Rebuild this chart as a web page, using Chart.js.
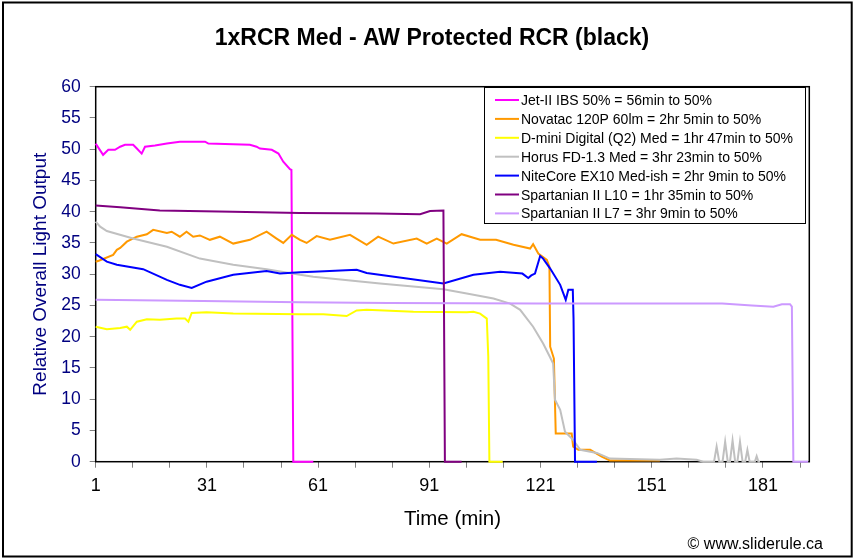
<!DOCTYPE html>
<html>
<head>
<meta charset="utf-8">
<title>1xRCR Med - AW Protected RCR (black)</title>
<script src="https://cdn.jsdelivr.net/npm/chart.js@4.4.1/dist/chart.umd.min.js"></script>
<style>
  html, body { margin: 0; padding: 0; background: #fff; }
  #chart { display: block; }
</style>
</head>
<body>
<canvas id="chart" width="855" height="560"></canvas>
<script>
// readings: minutes since switch-on vs relative output
const jetMin = [1, 3, 4.4, 6.2, 7.6, 8.9, 11.1, 12.1, 13.4, 14.3, 17, 20.2, 23.7, 30.5, 31.4, 42.6, 44.4, 45.3, 48.5, 50.3, 51.6, 53.4, 53.8, 54.3, 59.7];
const jetOut = [50.9, 49.1, 49.9, 49.9, 50.4, 50.7, 50.7, 50.1, 49.3, 50.4, 50.6, 50.9, 51.2, 51.2, 50.9, 50.7, 50.4, 50.1, 49.9, 49.3, 48, 46.8, 46.7, 0, 0];

const novaMin = [1, 2, 5.7, 6.7, 7.6, 9.4, 12.1, 14.8, 16.5, 20.2, 21.5, 23.7, 25.5, 27.3, 29.1, 31.8, 34.5, 38.1, 42.6, 47.1, 49.8, 51.6, 53.9, 56.1, 57.9, 60.6, 64.2, 69.6, 74.1, 77.2, 81.3, 87.6, 90.3, 93, 95.7, 99.7, 104.7, 109, 113.7, 118.2, 119, 120.4, 122.7, 123.4, 123.6, 124.6, 125.1, 129.4, 129.8, 131.2, 134.4, 137.5, 139.7, 153.2];
const novaOut = [32, 32.2, 33.1, 33.9, 34.2, 35.2, 36, 36.4, 37.1, 36.6, 36.8, 36, 36.8, 36, 36.2, 35.5, 36, 34.9, 35.5, 36.8, 35.7, 35, 36.3, 35.5, 35, 36.1, 35.5, 36.3, 34.7, 36, 34.9, 35.7, 34.9, 35.7, 34.9, 36.4, 35.5, 35.5, 34.7, 34.1, 34.8, 33.3, 32.3, 31.2, 18.4, 16.5, 4.5, 4.5, 2.4, 1.9, 1.9, 0.8, 0.2, 0.2];

const dminiMin = [1, 4, 7.6, 9.4, 10.3, 12.1, 14.8, 18.3, 22.8, 25.1, 26, 26.9, 30.9, 38.1, 56.1, 62.4, 68.7, 71.4, 74.1, 86.7, 101.1, 102.9, 104.7, 106.5, 106.9, 107.2, 110.8];
const dminiOut = [21.6, 21.2, 21.4, 21.6, 21.1, 22.4, 22.8, 22.7, 22.9, 22.9, 22.4, 23.8, 23.9, 23.7, 23.6, 23.6, 23.3, 24.2, 24.3, 24.0, 23.9, 24.0, 23.7, 22.9, 16.8, 0, 0];

const horusMin = [1, 2.2, 4, 11.1, 20.2, 29.1, 38.1, 47.1, 56.1, 59.7, 77.7, 94.8, 101.1, 108.3, 112.8, 115.5, 119, 121.7, 123.5, 124.4, 124.9, 126.3, 127.6, 129.8, 131.7, 136.2, 139.7, 153.2, 157.7, 163.1, 164.9, 167.8, 168.5, 169.2, 170.1, 170.8, 171.5, 172.1, 172.8, 173.5, 174.1, 174.8, 175.5, 176.2, 176.8, 177.4, 178.8, 179.3, 179.8, 180.2];
const horusOut = [38.4, 37.6, 36.9, 35.7, 34.4, 32.5, 31.5, 30.8, 29.9, 29.6, 28.5, 27.6, 26.9, 26.1, 25.3, 24.3, 21.6, 18.9, 16.8, 15.7, 9.9, 8.3, 4.8, 3.5, 1.9, 1.4, 0.5, 0.3, 0.5, 0.3, 0, 0, 2.4, 0, 0, 3.2, 0, 0, 3.4, 0, 0, 3.2, 0, 0, 1.9, 0, 0, 0.9, 0, 0];

const niteMin = [1, 4, 6.7, 13.8, 20.2, 23.7, 26.9, 30.9, 38.1, 47.1, 50.7, 56.1, 59.7, 71.4, 74.1, 94.8, 102.9, 110.1, 116.1, 117.7, 118.5, 119.5, 120.9, 121.7, 123.6, 126.3, 127.8, 128.5, 129.7, 129.9, 130.3, 136.2];
const niteOut = [33.2, 32.0, 31.5, 30.8, 29.1, 28.3, 27.8, 28.8, 29.9, 30.5, 30.1, 30.3, 30.4, 30.7, 30.2, 28.5, 29.9, 30.4, 30.1, 29.4, 29.8, 30.1, 32.9, 32.5, 30.9, 28.3, 25.9, 27.5, 27.5, 22.9, 0, 0];

const l10Min = [1, 7.6, 18.3, 38, 56, 76.8, 88.5, 91.2, 94.8, 95.2, 99.7];
const l10Out = [41.0, 40.7, 40.2, 40.0, 39.8, 39.7, 39.6, 40.1, 40.2, 0, 0];

const l7Min = [1, 30, 56, 80, 120, 170, 178, 183.8, 186.1, 188.3, 188.8, 189.2, 193.2];
const l7Out = [25.9, 25.7, 25.5, 25.4, 25.3, 25.3, 25.0, 24.8, 25.2, 25.2, 24.8, 0, 0];

const seriesLabels = [
  'Jet-II IBS 50% = 56min to 50%',
  'Novatac 120P 60lm = 2hr 5min to 50%',
  'D-mini Digital (Q2) Med = 1hr 47min to 50%',
  'Horus FD-1.3 Med = 3hr 23min to 50%',
  'NiteCore EX10 Med-ish = 2hr 9min to 50%',
  'Spartanian II L10 = 1hr 35min to 50%',
  'Spartanian II L7 = 3hr 9min to 50%'
];
const seriesColors = ['#FF00FF', '#FF9900', '#FFFF00', '#C0C0C0', '#0000FF', '#800080', '#CC99FF'];

const xTickMinutes = [1, 11, 21, 31, 41, 51, 61, 71, 81, 91, 101, 111, 121, 131, 141, 151, 161, 171, 181, 191];
const xTickLabels = [1, 31, 61, 91, 121, 151, 181];

const chartTitle = '1xRCR Med - AW Protected RCR (black)';
const FONT = "'Liberation Sans', Arial, sans-serif";

function series(i, xs, ys) {
  return {
    label: seriesLabels[i],
    borderColor: seriesColors[i],
    backgroundColor: seriesColors[i],
    data: xs.map((x, k) => ({ x: x, y: ys[k] })),
    borderWidth: 2,
    pointRadius: 0,
    tension: 0,
    fill: false,
    clip: false,
    order: seriesLabels.length - i   // later series on top, like the original
  };
}

const decor = {
  id: 'decor',
  beforeDraw(chart) {
    const ctx = chart.ctx;
    ctx.save();
    ctx.fillStyle = '#fff';
    ctx.fillRect(0, 0, chart.width, chart.height);
    ctx.restore();
  },
  beforeDatasetsDraw(chart) {
    const { ctx, chartArea: a } = chart;
    ctx.save();
    ctx.strokeStyle = '#000';
    ctx.lineWidth = 1.5;
    ctx.strokeRect(a.left, a.top, a.right - a.left, a.bottom - a.top);
    ctx.restore();
  },
  afterDraw(chart) {
    const ctx = chart.ctx;
    ctx.save();

    ctx.fillStyle = '#000';
    ctx.font = 'bold 23px ' + FONT;
    ctx.textAlign = 'center';
    ctx.textBaseline = 'alphabetic';
    ctx.fillText(chartTitle, 432, 45);

    // legend box
    ctx.fillStyle = '#fff';
    ctx.fillRect(484, 87, 321, 136);
    ctx.strokeStyle = '#000';
    ctx.lineWidth = 1;
    ctx.strokeRect(484.5, 87.5, 321, 136);
    ctx.font = '14px ' + FONT;
    ctx.textAlign = 'left';
    chart.data.datasets.forEach((ds, i) => {
      const y = 105 + i * 18.9;
      ctx.strokeStyle = ds.borderColor;
      ctx.lineWidth = 2;
      ctx.beginPath();
      ctx.moveTo(495, y - 5);
      ctx.lineTo(519, y - 5);
      ctx.stroke();
      ctx.fillStyle = '#000';
      ctx.fillText(ds.label, 521, y);
    });

    ctx.font = '16px ' + FONT;
    ctx.textAlign = 'right';
    ctx.fillText('\u00A9 www.sliderule.ca', 823, 549);

    ctx.strokeStyle = '#000';
    ctx.lineWidth = 2;
    ctx.strokeRect(3, 2.5, 848.7, 554);
    ctx.restore();
  }
};

new Chart(document.getElementById('chart'), {
  type: 'line',
  data: {
    datasets: [
      series(0, jetMin, jetOut),
      series(1, novaMin, novaOut),
      series(2, dminiMin, dminiOut),
      series(3, horusMin, horusOut),
      series(4, niteMin, niteOut),
      series(5, l10Min, l10Out),
      series(6, l7Min, l7Out)
    ]
  },
  options: {
    responsive: false,
    animation: false,
    layout: { padding: { left: 0, top: 86.7, right: 45.7, bottom: 0 } },
    plugins: {
      legend: { display: false },
      title: { display: false },
      tooltip: { enabled: false }
    },
    scales: {
      x: {
        type: 'linear',
        min: 1,
        max: 193.5,
        afterBuildTicks: (scale) => { scale.ticks = xTickMinutes.map(v => ({ value: v })); },
        afterFit: (scale) => { scale.height = 98.3; },
        ticks: {
          autoSkip: false,
          maxRotation: 0,
          color: '#000',
          padding: 8,
          font: { family: FONT, size: 18 },
          callback: (v) => xTickLabels.includes(v) ? String(v) : ''
        },
        grid: { drawOnChartArea: false, color: '#808080', tickLength: 6 },
        border: { display: false },
        title: {
          display: true,
          text: 'Time (min)',
          color: '#000',
          font: { family: FONT, size: 20.5 },
          padding: { top: 0, bottom: 28 }
        }
      },
      y: {
        min: 0,
        max: 60,
        afterFit: (scale) => { scale.width = 95.7; },
        ticks: {
          stepSize: 5,
          color: '#000080',
          padding: 9,
          font: { family: FONT, size: 17.5 }
        },
        grid: { drawOnChartArea: false, color: '#808080', tickLength: 6 },
        border: { display: false },
        title: {
          display: true,
          text: 'Relative Overall Light Output',
          color: '#000080',
          font: { family: FONT, size: 19 },
          padding: { top: 29, bottom: 0 }
        }
      }
    }
  },
  plugins: [decor]
});
</script>
</body>
</html>
